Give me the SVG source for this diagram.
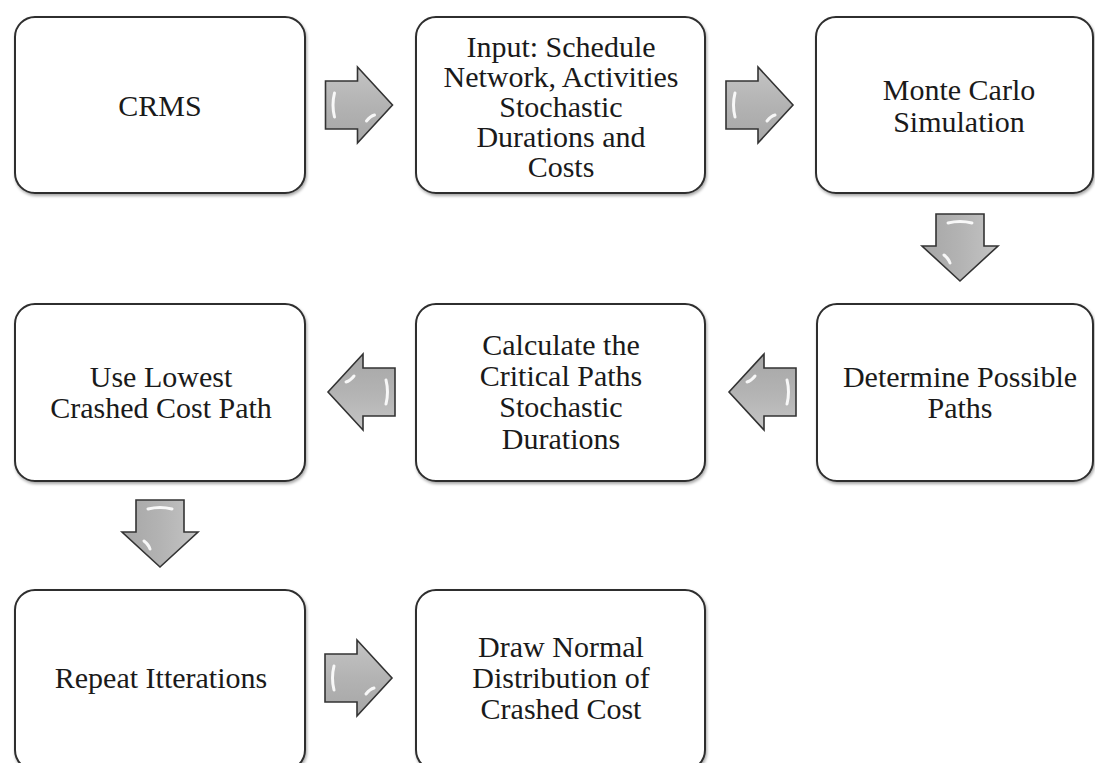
<svg xmlns="http://www.w3.org/2000/svg" width="1095" height="763" viewBox="0 0 1095 763">
<style>
.box{fill:#fff;stroke:#2e2e2e;stroke-width:2;filter:url(#sh)}
.t{font-family:'Liberation Serif','DejaVu Serif',serif;font-size:30px;fill:#1a1a1a;text-anchor:middle}
.arr{fill:url(#ag);stroke:#333;stroke-width:1.6;stroke-linejoin:miter}
.hl{fill:none;stroke:#fff;stroke-width:3;stroke-linecap:round;opacity:0.9}
</style>
<defs>
<filter id="sh" x="-5%" y="-5%" width="112%" height="115%">
<feDropShadow dx="1" dy="2" stdDeviation="1.5" flood-color="#000" flood-opacity="0.35"/>
</filter>
<linearGradient id="ag" x1="0" y1="0" x2="0" y2="1">
<stop offset="0" stop-color="#c4c4c4"/>
<stop offset="0.5" stop-color="#b3b3b3"/>
<stop offset="1" stop-color="#a6a6a6"/>
</linearGradient>
<g id="arrow">
<path class="arr" d="M-33,-24 H-1 V-38 L34,0 L-1,38 V24 H-33 Z"/>
<path class="hl" d="M-24,-12 Q-27,0 -24,12" stroke-width="4"/>
<path class="hl" d="M8,16 Q12,11 16,10" stroke-width="4"/>
</g>
</defs>

<g id="connectors">
<use href="#arrow" transform="translate(358.5,105)"/>
<use href="#arrow" transform="translate(759,105)"/>
<use href="#arrow" transform="translate(960,247) rotate(90)"/>
<use href="#arrow" transform="translate(763,392) rotate(180)"/>
<use href="#arrow" transform="translate(362,392) rotate(180)"/>
<use href="#arrow" transform="translate(160,533) rotate(90)"/>
<use href="#arrow" transform="translate(358,678)"/>
</g>

<g id="n1">
<rect class="box" x="15" y="17" width="290" height="176" rx="20"/>
<text class="t" font-family="Liberation Serif, serif" x="160" y="116">CRMS</text>
</g>
<g id="n2">
<rect class="box" x="416" y="17" width="289" height="176" rx="20"/>
<text class="t" font-family="Liberation Serif, serif" x="561" y="57">Input: Schedule</text>
<text class="t" font-family="Liberation Serif, serif" x="561" y="87">Network, Activities</text>
<text class="t" font-family="Liberation Serif, serif" x="561" y="117">Stochastic</text>
<text class="t" font-family="Liberation Serif, serif" x="561" y="147">Durations and</text>
<text class="t" font-family="Liberation Serif, serif" x="561" y="177">Costs</text>
</g>
<g id="n3">
<rect class="box" x="816" y="17" width="277" height="176" rx="20"/>
<text class="t" font-family="Liberation Serif, serif" x="959" y="100">Monte Carlo</text>
<text class="t" font-family="Liberation Serif, serif" x="959" y="132">Simulation</text>
</g>
<g id="n4">
<rect class="box" x="817" y="304" width="276" height="177" rx="20"/>
<text class="t" font-family="Liberation Serif, serif" x="960" y="387">Determine Possible</text>
<text class="t" font-family="Liberation Serif, serif" x="960" y="418">Paths</text>
</g>
<g id="n5">
<rect class="box" x="416" y="304" width="289" height="177" rx="20"/>
<text class="t" font-family="Liberation Serif, serif" x="561" y="355">Calculate the</text>
<text class="t" font-family="Liberation Serif, serif" x="561" y="386">Critical Paths</text>
<text class="t" font-family="Liberation Serif, serif" x="561" y="417">Stochastic</text>
<text class="t" font-family="Liberation Serif, serif" x="561" y="449">Durations</text>
</g>
<g id="n6">
<rect class="box" x="15" y="304" width="290" height="177" rx="20"/>
<text class="t" font-family="Liberation Serif, serif" x="161" y="387">Use Lowest</text>
<text class="t" font-family="Liberation Serif, serif" x="161" y="418">Crashed Cost Path</text>
</g>
<g id="n7">
<rect class="box" x="15" y="590" width="290" height="180" rx="20"/>
<text class="t" font-family="Liberation Serif, serif" x="161" y="688">Repeat Itterations</text>
</g>
<g id="n8">
<rect class="box" x="416" y="590" width="289" height="180" rx="20"/>
<text class="t" font-family="Liberation Serif, serif" x="561" y="657">Draw Normal</text>
<text class="t" font-family="Liberation Serif, serif" x="561" y="688">Distribution of</text>
<text class="t" font-family="Liberation Serif, serif" x="561" y="719">Crashed Cost</text>
</g>
</svg>
